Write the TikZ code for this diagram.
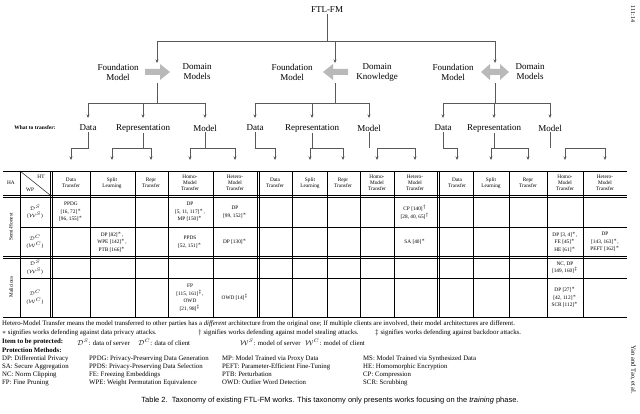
\documentclass[tikz,border=0pt]{standalone}
\usepackage{fontspec}
\setmainfont{Liberation Serif}
\newfontfamily\capfont{Liberation Sans}
\usetikzlibrary{arrows.meta}
\begin{document}
\begin{tikzpicture}[x=1pt,y=-1pt,
  conn/.style={draw=gray!70!black,line width=0.6pt},
  arr/.style={conn,-{Stealth[length=3.5pt,width=3pt]}},
  tree/.style={font=\fontsize{9}{10}\selectfont,align=center,inner sep=1pt},
  hd/.style={font=\fontsize{5.3}{6.2}\selectfont,align=center,inner sep=0pt},
  cell/.style={font=\fontsize{5.3}{7.5}\selectfont,align=center,inner sep=0pt},
  foot/.style={font=\fontsize{6.8}{8}\selectfont,anchor=west,inner sep=0pt},
  fat/.style={fill=gray!55,draw=none},
  tl/.style={line width=0.4pt}]
\useasboundingbox (0,0) rectangle (640,414);
% top
\node[tree] (root) at (327,10) {FTL-FM};
\coordinate (j0) at (327,41);
\draw[conn] (root.south) -- (j0);
\draw[conn] (157,41) -- (495,41);
\foreach \x/\n in {157/a,335/b,495/c}{
  \coordinate (t\n) at (\x,41);
  \coordinate (h\n) at (\x,63);
  \draw[arr] (t\n) -- (h\n);}
% group labels
\node[tree] (f1) at (118,72) {Foundation\\Model};
\node[tree] (d1) at (197,72) {Domain\\Models};
\node[tree] (f2) at (292,72) {Foundation\\Model};
\node[tree] (d2) at (377,72) {Domain\\Knowledge};
\node[tree] (f3) at (453,72) {Foundation\\Model};
\node[tree] (d3) at (530,72) {Domain\\Models};
% fat arrows
\fill[fat] (145,69) -- (160,69) -- (160,64) -- (170,72) -- (160,80) -- (160,75) -- (145,75) -- cycle;
\fill[fat] (348,69) -- (333,69) -- (333,64) -- (323,72) -- (333,80) -- (333,75) -- (348,75) -- cycle;
\fill[fat] (490,69) -- (500,69) -- (500,64) -- (509,72) -- (500,80) -- (500,75) -- (490,75) -- (490,80) -- (481,72) -- (490,64) -- cycle;
% second level
\node[tree] (wt) at (35,128) {\fontsize{5.5}{6}\selectfont\bfseries What to transfer:};
\foreach \n/\gx/\dx/\rx/\mx in {a/157/88/143/205, b/335/255/312/369, c/495/443/494/550}{
  \draw[conn] (\gx,83) -- (\gx,103);
  \draw[conn] (\dx,103) -- (\mx,103);
  \foreach \x in {\dx,\rx,\mx} \draw[arr] (\x,103) -- (\x,118);
  \node[tree] (D\n) at (\dx,128) {Data};
  \node[tree] (R\n) at (\rx,128) {Representation};
  \node[tree] (M\n) at (\mx,128) {Model};
}
% third level connectors
\foreach \n/\dx/\dt/\rx/\sa/\sb/\mx/\ma/\mb in {a/88/71/143/112/151/205/190/235, b/255/275/312/310/343/369/377/415, c/443/457/494/491/528/550/565/605}{
  \draw[conn] (D\n.south) -- (\dx,148) -- (\dt,148);
  \draw[arr] (\dt,148) -- (\dt,160);
  \draw[conn] (R\n.south) -- (\rx,148);
  \draw[conn] (\sa,148) -- (\sb,148);
  \draw[arr] (\sa,148) -- (\sa,160);
  \draw[arr] (\sb,148) -- (\sb,160);
  \draw[conn] (M\n.south) -- (\mx,148);
  \draw[conn] (\ma,148) -- (\mb,148);
  \draw[arr] (\ma,148) -- (\ma,160);
  \draw[arr] (\mb,148) -- (\mb,160);
}
% table lines
\draw[tl] (3,171) -- (627,171);
\draw[tl] (3,195) -- (627,195);
\draw[tl] (3,197) -- (627,197);
\draw[tl] (20,227) -- (627,227);
\draw[tl] (3,256.5) -- (627,256.5);
\draw[tl] (3,258) -- (627,258);
\draw[tl] (20,278) -- (627,278);
\draw[line width=0.6pt] (3,317) -- (627,317);
\foreach \x in {20,50,52,90,135,168,213,257,259,292,327,360,394,437,439.5,473,509,547,583}
  \draw[tl] (\x,171) -- (\x,317);
\draw[tl] (20,171) -- (50,195);
% header
\node[hd] (hHA) at (11,183) {HA};
\node[hd] (hHT) at (41,177) {HT};
\node[hd] (hWP) at (30,190) {WP};
\foreach \x in {71,275,457}{\node[hd] at (\x,183) {Data\\Transfer};}
\foreach \x in {112,310,491}{\node[hd] at (\x,183) {Split\\Learning};}
\foreach \x in {151,343,528}{\node[hd] at (\x,183) {Repr\\Transfer};}
\foreach \x in {190,377,565}{\node[hd] at (\x,183) {Homo-\\Model\\Transfer};}
\foreach \x in {235,415,605}{\node[hd] at (\x,183) {Hetero-\\Model\\Transfer};}
% row labels
\node[hd,rotate=90] (sh) at (11,227) {Semi-Honest};
\node[hd,rotate=90] (ml) at (11,287) {Malicious};
\node[cell] (r1) at (35,212) {$\mathcal{D}^S$\\($\mathcal{W}^S$)};
\node[cell] (r2) at (35,242) {$\mathcal{D}^C$\\($\mathcal{W}^C$)};
\node[cell] (r3) at (35,267.5) {$\mathcal{D}^S$\\($\mathcal{W}^S$)};
\node[cell] (r4) at (35,297.5) {$\mathcal{D}^C$\\($\mathcal{W}^C$)};
% cells
\node[cell] (c1) at (71,212) {PPDG\\{}[16, 72]$^*$\\{}[96, 155]$^*$};
\node[cell] (c2) at (112,242) {DP [82]$^*$,\\WPE [142]$^*$,\\PTB [166]$^*$};
\node[cell] (c3) at (190,212) {DP\\{}[5, 11, 117]$^*$,\\MP [150]$^*$};
\node[cell] (c4) at (190,242) {PPDS\\{}[52, 151]$^*$};
\node[cell] (c5) at (235,212) {DP\\{}[99, 152]$^*$};
\node[cell] (c6) at (235,242) {DP [130]$^*$};
\node[cell] (c7) at (190,297.5) {FP\\{}[115, 161]$^\ddagger$,\\OWD\\{}[21, 98]$^\ddagger$};
\node[cell] (c8) at (235,297.5) {OWD [14]$^\ddagger$};
\node[cell] (c9) at (415,212) {CP [140]$^\dagger$\\{}[28, 40, 65]$^\dagger$};
\node[cell] (c10) at (415,242) {SA [40]$^*$};
\node[cell] (c11) at (565,242) {DP [3, 4]$^*$,\\FE [45]$^*$\\HE [61]$^*$};
\node[cell] (c12) at (605,242) {DP\\{}[143, 163]$^*$,\\PEFT [162]$^*$};
\node[cell] (c13) at (565,267.5) {NC, DP\\{}[149, 160]$^\ddagger$};
\node[cell] (c14) at (565,297.5) {DP [27]$^*$\\{}[42, 112]$^*$\\SCR [112]$^*$};
% footer
\node[foot] (n1) at (2,324) {Hetero-Model Transfer means the model transferred to other parties has a \emph{different} architecture from the original one; If multiple clients are involved, their model architectures are different.};
\node[foot] (n2) at (2,333) {$*$ signifies works defending against data privacy attacks.};
\node[foot] (n3) at (198,333) {$\dagger$ signifies works defending against model stealing attacks.};
\node[foot] (n4) at (375,333) {$\ddagger$ signifies works defending against backdoor attacks.};
\node[foot] (n5) at (2,342) {\bfseries Item to be protected:};
\node[foot] (n6) at (77,342) {$\mathcal{D}^S$: data of server};
\node[foot] (n7) at (138,342) {$\mathcal{D}^C$: data of client};
\node[foot] (n8) at (240,342) {$\mathcal{W}^S$: model of server};
\node[foot] (n9) at (305,342) {$\mathcal{W}^C$: model of client};
\node[foot] (n10) at (2,350.5) {\bfseries Protection Methods:};
\node[foot] (p1) at (2,358.5) {DP: Differential Privacy};
\node[foot] (p2) at (2,366.5) {SA: Secure Aggregation};
\node[foot] (p3) at (2,374.5) {NC: Norm Clipping};
\node[foot] (p4) at (2,382.5) {FP: Fine Pruning};
\node[foot] (p5) at (89,358.5) {PPDG: Privacy-Preserving Data Generation};
\node[foot] (p6) at (89,366.5) {PPDS: Privacy-Preserving Data Selection};
\node[foot] (p7) at (89,374.5) {FE: Freezing Embeddings};
\node[foot] (p8) at (89,382.5) {WPE: Weight Permutation Equivalence};
\node[foot] (p9) at (222,358.5) {MP: Model Trained via Proxy Data};
\node[foot] (p10) at (222,366.5) {PEFT: Parameter-Efficient Fine-Tuning};
\node[foot] (p11) at (222,374.5) {PTB: Perturbation};
\node[foot] (p12) at (222,382.5) {OWD: Outlier Word Detection};
\node[foot] (p13) at (363,358.5) {MS: Model Trained via Synthesized Data};
\node[foot] (p14) at (363,366.5) {HE: Homomorphic Encryption};
\node[foot] (p15) at (363,374.5) {CP: Compression};
\node[foot] (p16) at (363,382.5) {SCR: Scrubbing};
\node[font=\capfont\fontsize{7.5}{9}\selectfont,inner sep=0pt] (cap) at (330,401) {Table 2.\ \ Taxonomy of existing FTL-FM works. This taxonomy only presents works focusing on the \emph{training} phase.};
% side texts
\node[font=\fontsize{6}{7}\selectfont,rotate=-90,inner sep=0pt] (s1) at (633,14) {111:14};
\node[font=\fontsize{6.5}{7}\selectfont,rotate=-90,inner sep=0pt] (s2) at (633,370) {Yan and Tao, et al.};
\end{tikzpicture}
\end{document}
